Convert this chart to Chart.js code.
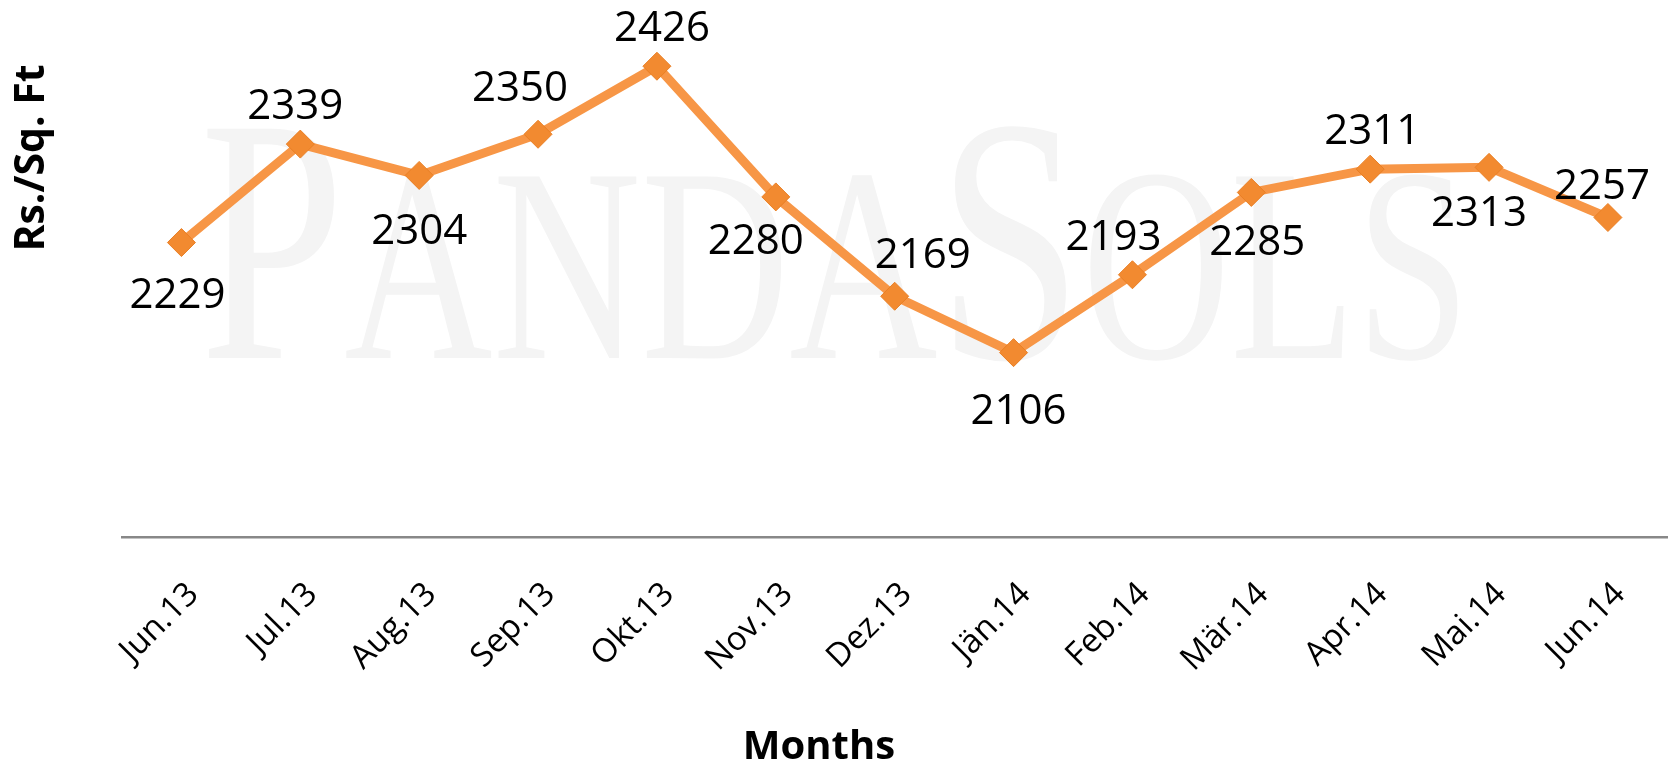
<!DOCTYPE html>
<html lang="en">
<head>
    <meta charset="UTF-8">
    <title>Rs./Sq. Ft by Month</title>
    <script src="https://cdn.jsdelivr.net/npm/chart.js"></script>
    <style>
        body { margin: 0; background: #ffffff; }
        #wrap { width: 1674px; height: 768px; }
    </style>
</head>
<body>
    <div id="wrap">
        <canvas id="priceChart" width="1674" height="768"></canvas>
    </div>
    <script>
        // chart data
        const months = ['Jun.13', 'Jul.13', 'Aug.13', 'Sep.13', 'Okt.13', 'Nov.13', 'Dez.13',
                        'Jän.14', 'Feb.14', 'Mär.14', 'Apr.14', 'Mai.14', 'Jun.14'];
        const pricePerSqFt = [2229, 2339, 2304, 2350, 2426, 2280, 2169, 2106, 2193, 2285, 2311, 2313, 2257];
        const yTitle = 'Rs./Sq. Ft';
        const xTitle = 'Months';

        // where each value label sits relative to its point (px)
        const labelShift = [
            [-4, 50], [-5, -40], [0, 54], [-18, -48], [5, -40], [-20, 42], [28, -43],
            [5, 56], [-19, -40], [6, 48], [2, -40], [-10, 44], [-6, -33]
        ];

        // faint "PandaSols" watermark behind the line
        const watermark = {
            id: 'watermark',
            beforeDatasetsDraw(chart) {
                const ctx = chart.ctx;
                const parts = [['P', 350], ['ANDA', 277], ['S', 350], ['OLS', 277]];
                ctx.save();
                ctx.fillStyle = '#f4f4f4';
                ctx.textBaseline = 'alphabetic';
                let total = 0;
                parts.forEach(([t, s]) => {
                    ctx.font = s + 'px "Liberation Serif"';
                    total += ctx.measureText(t).width;
                });
                const left = 200, right = 1470, base = 358;
                ctx.translate(left, base);
                ctx.scale((right - left) / total, 1);
                let x = 0;
                parts.forEach(([t, s]) => {
                    ctx.font = s + 'px "Liberation Serif"';
                    ctx.fillText(t, x, 0);
                    x += ctx.measureText(t).width;
                });
                ctx.restore();
            }
        };

        // value labels + axis titles
        const annotate = {
            id: 'annotate',
            afterDatasetsDraw(chart) {
                const ctx = chart.ctx;
                const pts = chart.getDatasetMeta(0).data;
                ctx.save();
                ctx.fillStyle = '#000000';
                ctx.font = '42px "Open Sans"';
                ctx.textAlign = 'center';
                ctx.textBaseline = 'alphabetic';
                pts.forEach((p, i) => {
                    const [dx, dy] = labelShift[i];
                    ctx.fillText(String(pricePerSqFt[i]), p.x + dx, p.y + dy + 15);
                });

                ctx.font = 'bold 40px "Open Sans"';
                ctx.textBaseline = 'middle';
                ctx.fillText(xTitle, 819, 748);

                ctx.translate(32, 158);
                ctx.rotate(-Math.PI / 2);
                ctx.font = 'bold 41px "Open Sans"';
                ctx.fillText(yTitle, 0, 0);
                ctx.restore();
            }
        };

        const ctx = document.getElementById('priceChart').getContext('2d');
        new Chart(ctx, {
            type: 'line',
            data: {
                labels: months,
                datasets: [{
                    label: yTitle,
                    data: pricePerSqFt,
                    borderColor: '#F79646',
                    borderWidth: 9,
                    tension: 0,
                    pointStyle: 'rectRot',
                    pointRadius: 14,
                    pointHoverRadius: 14,
                    pointBackgroundColor: '#F28A30',
                    pointBorderColor: '#E97F24',
                    pointBorderWidth: 1
                }]
            },
            options: {
                responsive: false,
                animation: false,
                events: [],
                layout: {
                    autoPadding: false,
                    padding: { left: 122, right: 2, top: 0, bottom: 0 }
                },
                plugins: {
                    legend: { display: false },
                    tooltip: { enabled: false }
                },
                scales: {
                    x: {
                        offset: true,
                        grid: { display: false, drawTicks: false },
                        border: { display: true, color: '#888888', width: 2.5 },
                        afterFit(scale) { scale.height = 231; },
                        ticks: {
                            color: '#000000',
                            font: { family: 'Open Sans', size: 33 },
                            minRotation: 45,
                            maxRotation: 45,
                            padding: 38,
                            labelOffset: 12,
                            autoSkip: false
                        }
                    },
                    y: {
                        display: false,
                        min: 1900,
                        max: 2500
                    }
                }
            },
            plugins: [watermark, annotate]
        });
    </script>
</body>
</html>
